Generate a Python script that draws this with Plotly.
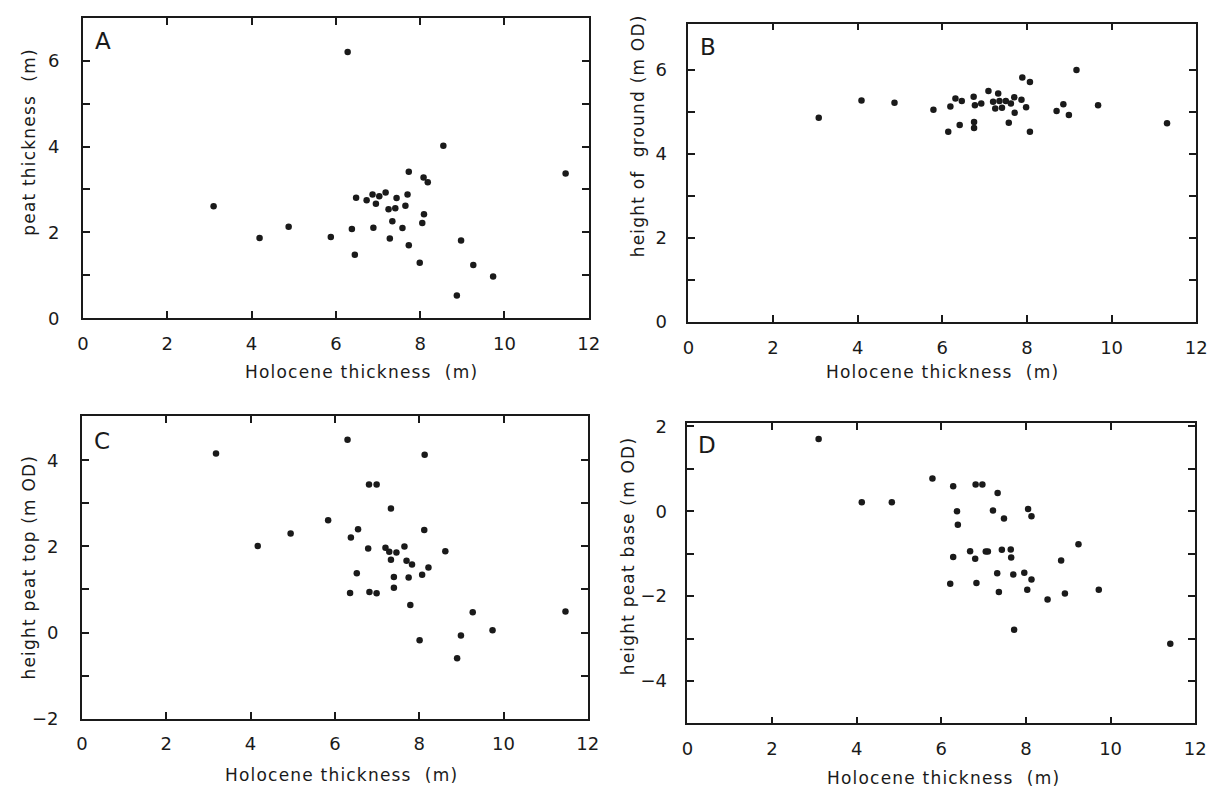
import plotly.graph_objects as go

# ---------------- data ----------------
hol_A = [6.28, 3.10, 4.19, 4.88, 5.88, 6.38, 6.45, 6.48, 6.73, 6.87, 6.95, 7.03, 7.18, 6.89, 7.25,
         7.41, 7.34, 7.28, 7.44, 7.65, 7.70, 7.58, 7.73, 7.73, 8.08, 8.18, 8.09, 8.05, 7.99, 8.55,
         8.97, 8.87, 9.26, 9.73, 11.45]
peat_A = [6.20, 2.61, 1.87, 2.13, 1.89, 2.08, 1.48, 2.81, 2.75, 2.88, 2.67, 2.84, 2.93, 2.11, 2.54,
          2.56, 2.26, 1.86, 2.80, 2.62, 2.88, 2.10, 1.70, 3.41, 3.28, 3.17, 2.42, 2.22, 1.29, 4.02,
          1.81, 0.53, 1.24, 0.97, 3.37]

hol_B = [3.08, 4.09, 4.87, 5.79, 6.14, 6.19, 6.31, 6.41, 6.46, 6.74, 6.77, 6.75, 6.75, 6.92, 7.09,
         7.20, 7.25, 7.32, 7.35, 7.41, 7.50, 7.62, 7.57, 7.70, 7.71, 7.87, 7.89, 7.98, 8.07, 8.07,
         8.70, 8.86, 8.99, 9.17, 9.68, 11.31]
ground_B = [4.86, 5.27, 5.22, 5.05, 4.53, 5.13, 5.32, 4.69, 5.26, 5.36, 5.16, 4.76, 4.62, 5.20, 5.50,
            5.24, 5.08, 5.44, 5.26, 5.10, 5.26, 5.20, 4.74, 5.35, 4.98, 5.29, 5.82, 5.11, 5.71, 4.53,
            5.02, 5.18, 4.93, 6.00, 5.16, 4.73]

hol_C = [3.18, 4.17, 4.95, 5.84, 6.30, 6.38, 6.36, 6.52, 6.55, 6.79, 6.81, 6.82, 6.99, 6.99, 7.20,
         7.29, 7.33, 7.33, 7.40, 7.40, 7.46, 7.65, 7.70, 7.75, 7.83, 7.79, 8.01, 8.07, 8.12, 8.13,
         8.22, 8.62, 8.90, 8.99, 9.27, 9.74, 11.47]
top_C = [4.16, 2.01, 2.30, 2.61, 4.48, 2.21, 0.92, 1.38, 2.40, 1.95, 3.44, 0.94, 3.44, 0.91, 1.97,
         1.88, 2.88, 1.69, 1.29, 1.04, 1.86, 2.00, 1.67, 1.28, 1.58, 0.64, -0.18, 1.34, 2.38, 4.13,
         1.51, 1.89, -0.60, -0.07, 0.47, 0.05, 0.49]

hol_D = [3.10, 4.12, 4.83, 5.79, 6.28, 6.81, 6.97, 7.33, 6.37, 6.39, 7.22, 8.05, 8.13, 7.48, 6.68,
         7.05, 7.10, 7.43, 7.64, 7.65, 6.28, 6.80, 9.24, 8.83, 7.32, 7.70, 7.96, 8.13, 6.21, 6.83,
         7.36, 8.03, 8.92, 9.72, 8.51, 7.72, 11.41]
base_D = [1.70, 0.21, 0.21, 0.77, 0.59, 0.63, 0.63, 0.43, 0.00, -0.32, 0.02, 0.05, -0.12, -0.17, -0.94,
          -0.95, -0.95, -0.91, -0.90, -1.09, -1.08, -1.12, -0.78, -1.16, -1.46, -1.49, -1.45, -1.61, -1.71, -1.69,
          -1.90, -1.85, -1.94, -1.85, -2.08, -2.79, -3.12]

x_ticks = [0, 2, 4, 6, 8, 10, 12]
x_ticktext = ["0", "2", "4", "6", "8", "10", "12"]
yA_ticks = [0, 1, 2, 3, 4, 5, 6]
yA_text = ["0", "", "2", "", "4", "", "6"]
yB_ticks = [0, 1, 2, 3, 4, 5, 6]
yB_text = ["0", "", "2", "", "4", "", "6"]
yC_ticks = [-2, -1, 0, 1, 2, 3, 4]
yC_text = ["\u22122", "", "0", "", "2", "", "4"]
yD_ticks = [-4, -3, -2, -1, 0, 1, 2]
yD_text = ["\u22124", "", "\u22122", "", "0", "", "2"]

x_title = "Holocene thickness  (m)"
y_titles = ["peat thickness  (m)", "height of  ground (m OD)", "height peat top (m OD)", "height peat base (m OD)"]
panel_letters = ["A", "B", "C", "D"]

# ---------------- figure ----------------
W, H = 1225, 800
INK = "#1a1a1a"
FONT = "DejaVu Sans"

def px(x):
    return x / W

def py(y):
    return 1 - y / H

fig = go.Figure()
series = [(hol_A, peat_A), (hol_B, ground_B), (hol_C, top_C), (hol_D, base_D)]
for i, (xs, ys) in enumerate(series):
    sfx = "" if i == 0 else str(i + 1)
    fig.add_trace(go.Scatter(x=xs, y=ys, mode="markers", xaxis="x" + sfx, yaxis="y" + sfx,
                             marker=dict(color=INK, size=6.5, line=dict(width=0)),
                             showlegend=False, hoverinfo="x+y"))

# panel boxes in pixels: (left, right, top, bottom)
boxes = [(78, 591, 11, 318), (692, 1207, 17, 322), (77, 590, 418, 727), (691, 1206, 425, 732)]
yranges = [[0, 7.0], [0, 7.1], [-2, 5.03], [-5, 2.08]]
yticks = [(yA_ticks, yA_text), (yB_ticks, yB_text), (yC_ticks, yC_text), (yD_ticks, yD_text)]
y_standoff = [18, 16, 18, 15]

axis_common = dict(showgrid=False, zeroline=False, showline=True, linecolor=INK, linewidth=1.6,
                   mirror="allticks", ticks="inside", ticklen=7, tickwidth=1.5, tickcolor=INK,
                   tickfont=dict(family=FONT, size=18, color=INK), tickmode="array")

for i, (l, r, t, b) in enumerate(boxes):
    sfx = "" if i == 0 else str(i + 1)
    fig.layout["xaxis" + sfx] = dict(axis_common, domain=[px(l), px(r)], range=[0, 12],
                                     tickvals=x_ticks, ticktext=x_ticktext,
                                     anchor="y" + sfx, ticklabelstandoff=8)
    fig.layout["yaxis" + sfx] = dict(axis_common, domain=[py(b), py(t)], range=yranges[i],
                                     tickvals=yticks[i][0], ticktext=yticks[i][1],
                                     anchor="x" + sfx, ticklabelstandoff=y_standoff[i])

ann = []
# x-axis titles (center x, center y)
xt_pos = [(360, 373), (950, 373), (340, 785), (951, 788)]
for (cx, cy) in xt_pos:
    ann.append(dict(x=px(cx), y=py(cy), xref="paper", yref="paper", showarrow=False,
                    text='<span style="letter-spacing:1.2px">' + x_title + "</span>",
                    font=dict(family=FONT, size=17, color=INK), xanchor="center", yanchor="middle"))
# y-axis titles
yt_pos = [(23, 138), (641, 132), (23, 572), (631, 561)]
for (cx, cy), txt in zip(yt_pos, y_titles):
    ann.append(dict(x=px(cx), y=py(cy), xref="paper", yref="paper", showarrow=False, textangle=-90,
                    text='<span style="letter-spacing:1.2px">' + txt + "</span>",
                    font=dict(family=FONT, size=17, color=INK), xanchor="center", yanchor="middle"))
# panel letters
lt_pos = [(98, 35), (712, 41), (97, 443), (711, 448)]
for (cx, cy), letter in zip(lt_pos, panel_letters):
    ann.append(dict(x=px(cx), y=py(cy), xref="paper", yref="paper", showarrow=False, text=letter,
                    font=dict(family=FONT, size=23, color=INK), xanchor="center", yanchor="middle"))

fig.update_layout(width=W, height=H, margin=dict(l=0, r=0, t=0, b=0),
                  paper_bgcolor="white", plot_bgcolor="white", annotations=ann,
                  showlegend=False)

fig.write_html("out.html")
